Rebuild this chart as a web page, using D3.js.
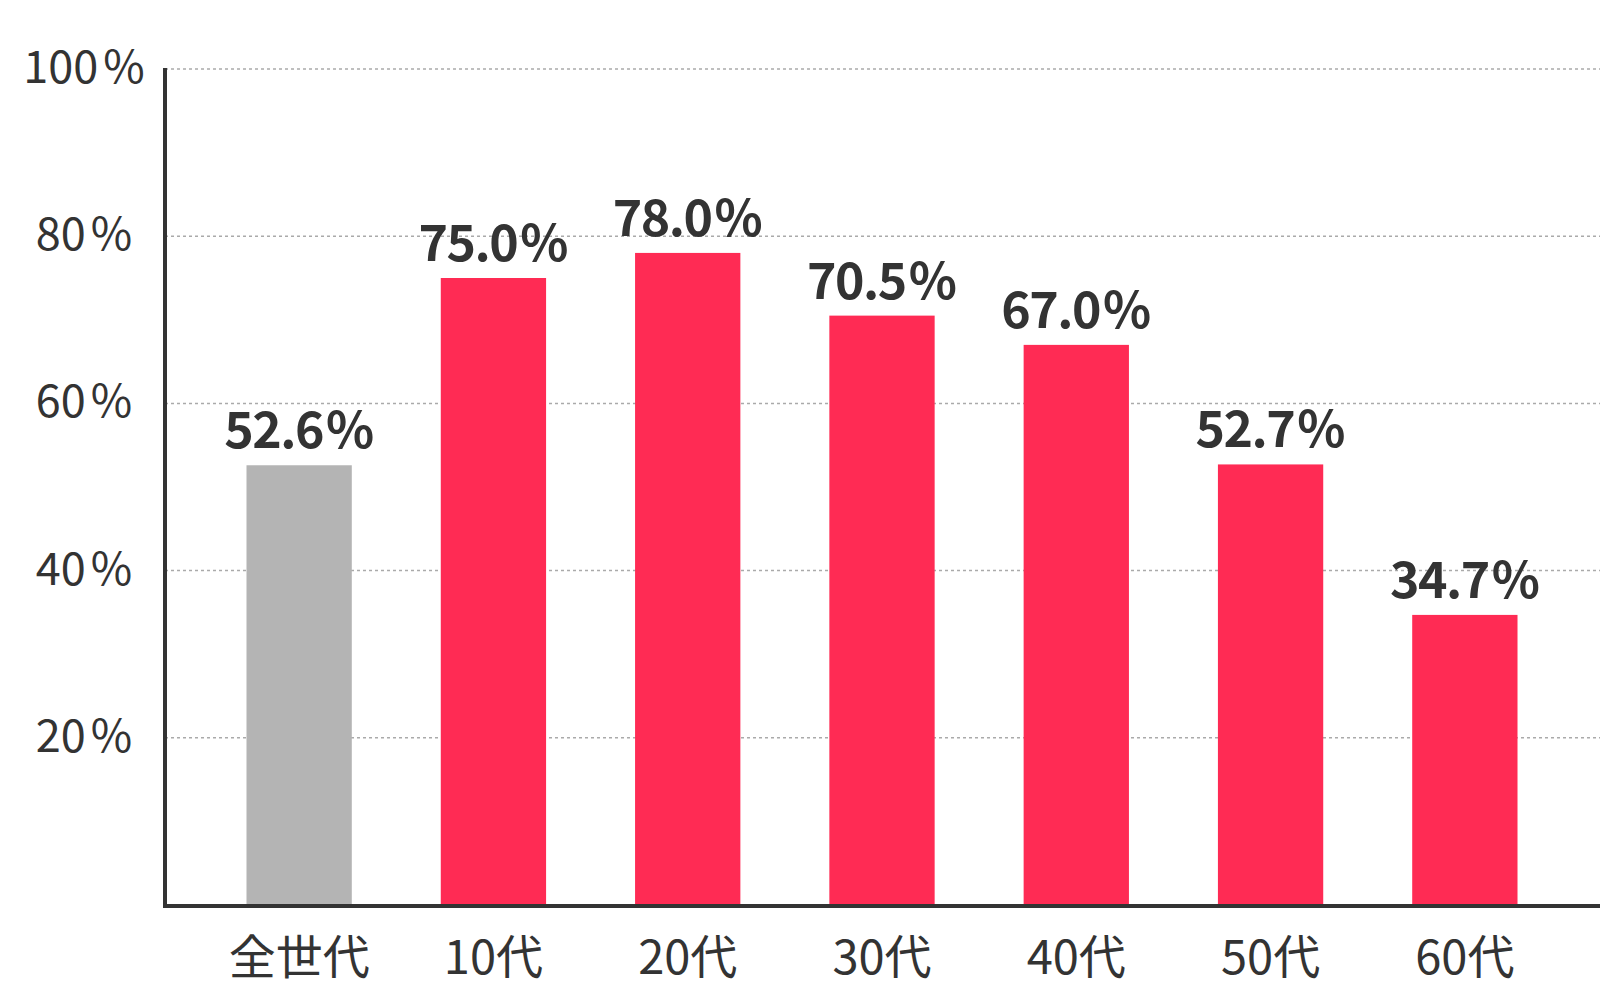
<!DOCTYPE html>
<html><head><meta charset="utf-8">
<script src="https://cdn.jsdelivr.net/npm/d3@7"></script>
<style>
html,body{margin:0;padding:0;background:#fff;}
svg{display:block;}
text{font-family:"Noto Sans CJK JP","Noto Sans",sans-serif;fill:#333;}
</style></head>
<body>
<svg id="chart" width="1600" height="988"></svg>
<script>
const categories = ["全世代","10代","20代","30代","40代","50代","60代"];
const values = [52.6, 75.0, 78.0, 70.5, 67.0, 52.7, 34.7];
const barColors = ["#b4b4b4","#ff2b54","#ff2b54","#ff2b54","#ff2b54","#ff2b54","#ff2b54"];
const yTicks = [20, 40, 60, 80, 100];

const svg = d3.select("#chart");
const axisX = 165, baseY = 905, topY = 69;

const x = d3.scaleBand().domain(categories).range([202, 1562]).paddingInner(0.458).paddingOuter(0.229);
const y = d3.scaleLinear().domain([0, 100]).range([baseY, topY]);

// gridlines
svg.append("g").selectAll("line").data(yTicks).join("line")
  .attr("x1", axisX).attr("x2", 1600)
  .attr("y1", d => y(d)).attr("y2", d => y(d))
  .attr("stroke", "#aaaaaa").attr("stroke-width", 1.5).attr("stroke-dasharray", "3,3");

// tick labels
const tl = svg.append("g").selectAll("text").data(yTicks).join("text")
  .attr("x", 84).attr("y", d => y(d) + 14)
  .attr("text-anchor", "middle")
  .style("font-size", "45px").style("font-weight", 400);
tl.append("tspan").text(d => d);
tl.append("tspan").attr("dx", 5).text("%");

// bars
svg.append("g").selectAll("rect").data(values).join("rect")
  .attr("x", (d, i) => x(categories[i]))
  .attr("width", x.bandwidth())
  .attr("y", d => y(d))
  .attr("height", d => baseY - y(d))
  .attr("fill", (d, i) => barColors[i]);

// value labels
const vl = svg.append("g").selectAll("text").data(values).join("text")
  .attr("x", (d, i) => x(categories[i]) + x.bandwidth() / 2)
  .attr("y", d => y(d) - 17)
  .attr("text-anchor", "middle")
  .style("font-size", "50px").style("font-weight", 700);
vl.append("tspan").style("letter-spacing", "-1.5px").text(d => d.toFixed(1));
vl.append("tspan").attr("dx", 3).text("%");

// category labels
svg.append("g").selectAll("text").data(categories).join("text")
  .attr("x", d => x(d) + x.bandwidth() / 2)
  .attr("y", 974)
  .attr("text-anchor", "middle")
  .style("font-size", "47px").style("font-weight", 400)
  .text(d => d);

// axes lines
svg.append("line").attr("x1", axisX).attr("x2", axisX).attr("y1", topY - 1).attr("y2", baseY + 2)
  .attr("stroke", "#333").attr("stroke-width", 4);
svg.append("line").attr("x1", axisX - 2).attr("x2", 1600).attr("y1", baseY + 1).attr("y2", baseY + 1)
  .attr("stroke", "#333").attr("stroke-width", 4);
</script>
</body></html>
